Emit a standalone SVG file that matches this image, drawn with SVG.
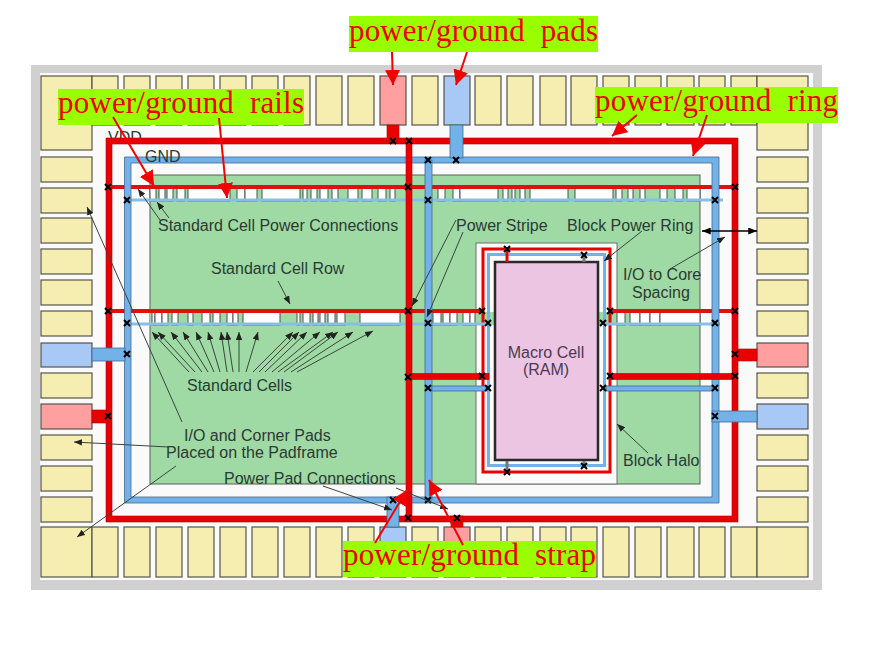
<svg xmlns="http://www.w3.org/2000/svg" width="879" height="645" viewBox="0 0 879 645">
<style>
.pad{fill:#f6edb0;stroke:#55554a;stroke-width:1.2}
.pp{fill:#ff9f9f;stroke:#55554a;stroke-width:1.2}
.pb{fill:#a8c8f5;stroke:#55554a;stroke-width:1.2}
.red{fill:#e80000;stroke:#b00000;stroke-width:.6}
.blu{fill:#72b2e8;stroke:#3f6a96;stroke-width:.8}
.cell{fill:#fff;stroke:#47524c;stroke-width:1}
.t{font-family:"Liberation Sans",Arial,sans-serif;font-size:16px;fill:#2b3a33}
.lab{font-family:"Liberation Serif","Times New Roman",serif;font-size:31px;fill:#f00000;white-space:pre}
.lb{fill:#99ff00}
.thin{stroke:#3a453f;stroke-width:1;fill:none;marker-end:url(#ah)}
.dbl{stroke:#000;stroke-width:1.6;fill:none;marker-end:url(#ahb);marker-start:url(#ahs)}
.rarr{stroke:#f00000;stroke-width:2;fill:none;marker-end:url(#rh)}
.x{stroke:#000;stroke-width:2;fill:none}
</style>
<defs>
<marker id="ah" viewBox="0 0 10 8" refX="10" refY="4" markerWidth="8" markerHeight="6.500" markerUnits="userSpaceOnUse" orient="auto"><path d="M0,0L10,4L0,8Z" fill="#222"/></marker>
<marker id="ahb" viewBox="0 0 10 8" refX="10" refY="4" markerWidth="9" markerHeight="7" markerUnits="userSpaceOnUse" orient="auto"><path d="M0,0L10,4L0,8Z" fill="#000"/></marker>
<marker id="ahs" viewBox="0 0 10 8" refX="0" refY="4" markerWidth="9" markerHeight="7" markerUnits="userSpaceOnUse" orient="auto"><path d="M10,0L0,4L10,8Z" fill="#000"/></marker>
<marker id="rh" viewBox="0 0 14 14" refX="14" refY="7" markerWidth="15" markerHeight="15" markerUnits="userSpaceOnUse" orient="auto"><path d="M0,0L14,7L0,14Z" fill="#f00000"/></marker>
<path id="xm" class="x" d="M-3,-3L3,3M3,-3L-3,3"/>
</defs>
<g id="frame">
<rect x="0" y="0" width="879" height="645" fill="#fff"/>
<rect x="31" y="65" width="791" height="525" fill="#d0d0d0"/>
<rect x="40" y="73" width="773" height="507" fill="#fbfafb"/>
</g>
<g id="pads">
<rect class="pad" x="41" y="76" width="51" height="74"/><rect class="pad" x="92" y="76" width="26" height="49"/>
<rect class="pad" x="124" y="76" width="26" height="49"/><rect class="pad" x="156" y="76" width="26" height="49"/><rect class="pad" x="188" y="76" width="26" height="49"/><rect class="pad" x="220" y="76" width="26" height="49"/><rect class="pad" x="252" y="76" width="26" height="49"/><rect class="pad" x="284" y="76" width="26" height="49"/><rect class="pad" x="316" y="76" width="26" height="49"/><rect class="pad" x="348" y="76" width="26" height="49"/>
<rect class="pp" x="380" y="76" width="26" height="49"/><rect class="pad" x="412" y="76" width="26" height="49"/><rect class="pb" x="444" y="76" width="26" height="49"/>
<rect class="pad" x="475" y="76" width="26" height="49"/><rect class="pad" x="507" y="76" width="26" height="49"/><rect class="pad" x="540" y="76" width="26" height="49"/><rect class="pad" x="571" y="76" width="26" height="49"/><rect class="pad" x="603" y="76" width="26" height="49"/><rect class="pad" x="635" y="76" width="26" height="49"/><rect class="pad" x="667" y="76" width="27" height="49"/><rect class="pad" x="699" y="76" width="26" height="49"/><rect class="pad" x="731" y="76" width="26" height="49"/>
<rect class="pad" x="757" y="76" width="51" height="74"/>
<rect class="pad" x="41" y="157" width="51" height="25"/><rect class="pad" x="41" y="188" width="51" height="25"/><rect class="pad" x="41" y="218" width="51" height="25"/><rect class="pad" x="41" y="249" width="51" height="25"/><rect class="pad" x="41" y="280" width="51" height="25"/><rect class="pad" x="41" y="311" width="51" height="25"/>
<rect class="pb" x="41" y="343" width="51" height="24"/><rect class="pad" x="41" y="373" width="51" height="25"/><rect class="pp" x="41" y="404" width="51" height="25"/><rect class="pad" x="41" y="435" width="51" height="25"/><rect class="pad" x="41" y="466" width="51" height="25"/><rect class="pad" x="41" y="497" width="51" height="25"/>
<rect class="pad" x="757" y="157" width="51" height="25"/><rect class="pad" x="757" y="188" width="51" height="25"/><rect class="pad" x="757" y="218" width="51" height="25"/><rect class="pad" x="757" y="249" width="51" height="25"/><rect class="pad" x="757" y="280" width="51" height="25"/><rect class="pad" x="757" y="311" width="51" height="25"/>
<rect class="pp" x="757" y="343" width="51" height="24"/><rect class="pad" x="757" y="373" width="51" height="25"/><rect class="pb" x="757" y="404" width="51" height="25"/><rect class="pad" x="757" y="435" width="51" height="25"/><rect class="pad" x="757" y="466" width="51" height="25"/><rect class="pad" x="757" y="497" width="51" height="25"/>
<rect class="pad" x="41" y="527" width="51" height="50"/><rect class="pad" x="92" y="527" width="26" height="50"/>
<rect class="pad" x="124" y="527" width="26" height="50"/><rect class="pad" x="156" y="527" width="26" height="50"/><rect class="pad" x="188" y="527" width="26" height="50"/><rect class="pad" x="220" y="527" width="26" height="50"/><rect class="pad" x="252" y="527" width="26" height="50"/><rect class="pad" x="284" y="527" width="26" height="50"/><rect class="pad" x="316" y="527" width="26" height="50"/><rect class="pad" x="348" y="527" width="26" height="50"/>
<rect class="pb" x="380" y="527" width="26" height="50"/><rect class="pad" x="412" y="527" width="26" height="50"/><rect class="pp" x="444" y="527" width="26" height="50"/>
<rect class="pad" x="475" y="527" width="26" height="50"/><rect class="pad" x="507" y="527" width="26" height="50"/><rect class="pad" x="540" y="527" width="26" height="50"/><rect class="pad" x="571" y="527" width="26" height="50"/><rect class="pad" x="603" y="527" width="26" height="50"/><rect class="pad" x="635" y="527" width="26" height="50"/><rect class="pad" x="667" y="527" width="27" height="50"/><rect class="pad" x="699" y="527" width="26" height="50"/><rect class="pad" x="731" y="527" width="26" height="50"/>
<rect class="pad" x="757" y="527" width="51" height="50"/>
</g>
<g id="core">
<rect x="150" y="175" width="550" height="309" fill="#9fd9a4" stroke="#56605a" stroke-width="1"/>
<rect x="476" y="243" width="141" height="241" fill="#fbfbfb" stroke="#6a736c" stroke-width="1"/>
</g>
<g id="row-1">
<rect x="150" y="188" width="550" height="13" fill="#9fd9a4"/>
<rect class="cell" x="150" y="188" width="6" height="13"/><rect class="cell" x="159" y="188" width="6" height="13"/><rect class="cell" x="167" y="188" width="6" height="13"/><rect class="cell" x="177" y="188" width="8" height="13"/><rect class="cell" x="188" y="188" width="42" height="13"/><rect class="cell" x="237" y="188" width="8" height="13"/><rect class="cell" x="245" y="188" width="12" height="13"/><rect class="cell" x="262" y="188" width="38" height="13"/><rect class="cell" x="303" y="188" width="4" height="13"/><rect class="cell" x="311" y="188" width="6" height="13"/><rect class="cell" x="320" y="188" width="8" height="13"/><rect class="cell" x="332" y="188" width="6" height="13"/><rect class="cell" x="348" y="188" width="10" height="13"/><rect class="cell" x="362" y="188" width="10" height="13"/><rect class="cell" x="378" y="188" width="8" height="13"/><rect class="cell" x="390" y="188" width="5" height="13"/>
<rect class="cell" x="438" y="188" width="7" height="13"/><rect class="cell" x="453" y="188" width="7" height="13"/><rect class="cell" x="460" y="188" width="38" height="13"/><rect class="cell" x="503" y="188" width="5" height="13"/><rect class="cell" x="512" y="188" width="3" height="13"/><rect class="cell" x="520" y="188" width="5" height="13"/><rect class="cell" x="530" y="188" width="38" height="13"/><rect class="cell" x="575" y="188" width="38" height="13"/><rect class="cell" x="616" y="188" width="6" height="13"/><rect class="cell" x="628" y="188" width="5" height="13"/><rect class="cell" x="640" y="188" width="5" height="13"/><rect class="cell" x="660" y="188" width="7" height="13"/><rect class="cell" x="675" y="188" width="8" height="13"/><rect class="cell" x="687" y="188" width="13" height="13"/>
</g>
<g id="row-2">
<rect x="150" y="312" width="550" height="13" fill="#9fd9a4"/>
<rect class="cell" x="152" y="312" width="3" height="13"/><rect class="cell" x="155" y="312" width="7" height="13"/><rect class="cell" x="162" y="312" width="6" height="13"/><rect class="cell" x="172" y="312" width="6" height="13"/><rect class="cell" x="188" y="312" width="5" height="13"/><rect class="cell" x="202" y="312" width="8" height="13"/><rect class="cell" x="213" y="312" width="7" height="13"/><rect class="cell" x="227" y="312" width="6" height="13"/><rect class="cell" x="233" y="312" width="5" height="13"/><rect class="cell" x="243" y="312" width="37" height="13"/><rect class="cell" x="297" y="312" width="3" height="13"/><rect class="cell" x="303" y="312" width="7" height="13"/><rect class="cell" x="313" y="312" width="5" height="13"/><rect class="cell" x="320" y="312" width="5" height="13"/><rect class="cell" x="328" y="312" width="7" height="13"/><rect class="cell" x="337" y="312" width="8" height="13"/><rect class="cell" x="360" y="312" width="40" height="13"/>
<rect class="cell" x="433" y="312" width="8" height="13"/><rect class="cell" x="443" y="312" width="7" height="13"/><rect class="cell" x="450" y="312" width="7" height="13"/><rect class="cell" x="463" y="312" width="7" height="13"/><rect class="cell" x="470" y="312" width="5" height="13"/>
<rect class="cell" x="617" y="312" width="8" height="13"/><rect class="cell" x="630" y="312" width="10" height="13"/><rect class="cell" x="640" y="312" width="10" height="13"/><rect class="cell" x="650" y="312" width="10" height="13"/><rect class="cell" x="660" y="312" width="40" height="13"/>
</g>
<g id="macro">
<rect x="483" y="249" width="127" height="223" fill="none" stroke="#e80000" stroke-width="3"/>
<rect x="488.500" y="254.500" width="116" height="211" fill="none" stroke="#72b2e8" stroke-width="3"/>
<rect x="495" y="262" width="103" height="198" fill="#ecc5e3" stroke="#2a2a2a" stroke-width="2.500"/>
<rect x="505.500" y="250" width="3" height="12" fill="#e80000"/>
<rect x="582.500" y="256" width="3" height="6" fill="#777"/>
<rect x="505.500" y="461" width="3" height="11" fill="#777"/>
<rect x="582.500" y="461" width="3" height="6" fill="#777"/>
</g>
<text class="t" x="108" y="143">VDD</text>
<g id="connectors">
<rect x="125" y="198.500" width="598" height="3" fill="#85bfe8"/>
<rect x="127" y="322.500" width="361" height="3" fill="#85bfe8"/>
<rect x="603" y="322.500" width="117" height="3" fill="#85bfe8"/>
<rect x="106" y="185" width="629" height="4" fill="#e01010"/>
<rect x="106" y="309" width="376" height="4" fill="#e01010"/>
<rect x="610" y="309" width="128" height="4" fill="#e01010"/>
<path class="blu" fill-rule="evenodd" d="M124.500,157H719V503H124.500ZM131,163V497H712V163Z"/>
<rect class="blu" x="425" y="160" width="7" height="340"/>
<rect class="blu" x="432" y="386" width="55" height="5"/>
<rect class="blu" x="606" y="386" width="106" height="5"/>
<path class="red" fill-rule="evenodd" d="M106,138H738V522H106ZM112,144V516H732V144Z"/>
<rect class="red" x="406" y="141" width="6" height="378"/>
<rect class="red" x="412" y="373.500" width="77" height="6"/>
<rect class="red" x="609" y="373.500" width="123" height="6"/>
<rect class="red" x="387" y="125" width="12" height="17"/>
<rect class="blu" x="450" y="125" width="13" height="33"/>
<rect class="blu" x="92" y="348" width="33" height="13"/>
<rect class="red" x="92" y="410" width="16" height="13"/>
<rect class="red" x="738" y="349" width="19" height="12"/>
<rect class="blu" x="712" y="411" width="45" height="11"/>
<rect class="blu" x="387" y="497" width="12" height="30"/>
<rect class="red" x="451" y="516" width="12" height="11"/>
</g>
<g id="vias">
<use href="#xm" x="393" y="141"/><use href="#xm" x="409" y="141"/><use href="#xm" x="408" y="187"/><use href="#xm" x="108" y="187"/><use href="#xm" x="127" y="200"/><use href="#xm" x="108" y="311"/><use href="#xm" x="127" y="323"/><use href="#xm" x="408" y="311"/><use href="#xm" x="428" y="323"/><use href="#xm" x="428" y="160"/><use href="#xm" x="456" y="160"/><use href="#xm" x="428" y="200"/><use href="#xm" x="735" y="187"/><use href="#xm" x="715" y="200"/><use href="#xm" x="735" y="311"/><use href="#xm" x="715" y="323"/><use href="#xm" x="482" y="311"/><use href="#xm" x="488" y="323"/><use href="#xm" x="610" y="311"/><use href="#xm" x="603" y="323"/><use href="#xm" x="507" y="249"/><use href="#xm" x="584" y="255"/><use href="#xm" x="127" y="354"/><use href="#xm" x="108" y="416"/><use href="#xm" x="408" y="377"/><use href="#xm" x="428" y="388"/><use href="#xm" x="393" y="500"/><use href="#xm" x="408" y="518"/><use href="#xm" x="428" y="500"/><use href="#xm" x="457" y="518"/><use href="#xm" x="482" y="376"/><use href="#xm" x="488" y="388"/><use href="#xm" x="610" y="376"/><use href="#xm" x="603" y="388"/><use href="#xm" x="735" y="376"/><use href="#xm" x="715" y="388"/><use href="#xm" x="735" y="354"/><use href="#xm" x="715" y="416"/><use href="#xm" x="507" y="472"/><use href="#xm" x="584" y="466"/>
</g>
<g id="labels">
<text class="t" x="145" y="162">GND</text>
<text class="t" x="158" y="231">Standard Cell Power Connections</text>
<text class="t" x="211" y="274">Standard Cell Row</text>
<text class="t" x="456" y="231">Power Stripe</text>
<text class="t" x="567" y="231">Block Power Ring</text>
<text class="t" x="623" y="280">I/O to Core</text>
<text class="t" x="632" y="298">Spacing</text>
<text class="t" x="546" y="358" text-anchor="middle" style="fill:#4a3a55">Macro Cell</text>
<text class="t" x="546" y="375" text-anchor="middle" style="fill:#4a3a55">(RAM)</text>
<text class="t" x="187" y="391">Standard Cells</text>
<text class="t" x="184" y="441">I/O and Corner Pads</text>
<text class="t" x="166" y="458">Placed on the Padframe</text>
<text class="t" x="224" y="484">Power Pad Connections</text>
<text class="t" x="623" y="466">Block Halo</text>
</g>
<g id="leaders">
<line class="thin" x1="160" y1="220" x2="138" y2="189"/>
<line class="thin" x1="169" y1="218" x2="157" y2="202"/>
<line class="thin" x1="278" y1="281" x2="290" y2="304"/>
<line class="thin" x1="456" y1="220" x2="412" y2="306"/>
<line class="thin" x1="463" y1="232" x2="427" y2="317"/>
<line class="thin" x1="642" y1="231" x2="604" y2="261"/>
<line class="dbl" x1="702" y1="231" x2="757" y2="231"/>
<line class="thin" x1="670" y1="269" x2="725" y2="237"/>
<line class="thin" x1="182" y1="422" x2="87" y2="207"/>
<line class="thin" x1="168" y1="447" x2="74" y2="442"/>
<line class="thin" x1="176" y1="466" x2="77" y2="537"/>
<line class="thin" x1="323" y1="486" x2="392" y2="510"/>
<line class="thin" x1="396" y1="488" x2="448" y2="509"/>
<line class="thin" x1="648" y1="453" x2="617" y2="424"/>
<line class="thin" x1="189" y1="372" x2="152" y2="332"/><line class="thin" x1="195" y1="372" x2="158" y2="332"/><line class="thin" x1="202" y1="372" x2="171" y2="332"/><line class="thin" x1="208" y1="372" x2="183" y2="332"/><line class="thin" x1="214" y1="372" x2="196" y2="332"/><line class="thin" x1="220" y1="372" x2="208" y2="332"/><line class="thin" x1="227" y1="372" x2="221" y2="332"/><line class="thin" x1="233" y1="372" x2="227" y2="332"/><line class="thin" x1="239" y1="372" x2="239" y2="332"/><line class="thin" x1="246" y1="372" x2="258" y2="332"/><line class="thin" x1="253" y1="372" x2="293" y2="332"/><line class="thin" x1="259" y1="372" x2="299" y2="332"/><line class="thin" x1="265" y1="372" x2="307" y2="332"/><line class="thin" x1="272" y1="372" x2="320" y2="332"/><line class="thin" x1="278" y1="372" x2="333" y2="332"/><line class="thin" x1="284" y1="372" x2="338" y2="332"/><line class="thin" x1="291" y1="372" x2="353" y2="332"/><line class="thin" x1="297" y1="372" x2="373" y2="331"/>
</g>
<g id="callouts">
<g id="callout-pads"><rect class="lb" x="349" y="16" width="249" height="36"/><text class="lab" x="349" y="41" textLength="249" lengthAdjust="spacing">power/ground  pads</text>
<line class="rarr" x1="392" y1="52" x2="393" y2="85"/><line class="rarr" x1="467" y1="52" x2="456" y2="85"/></g>
<g id="callout-rails"><rect class="lb" x="58" y="89" width="246" height="36"/><text class="lab" x="58" y="113" textLength="246" lengthAdjust="spacing">power/ground  rails</text>
<line class="rarr" x1="113" y1="117" x2="154" y2="186"/><line class="rarr" x1="219" y1="118" x2="227" y2="198"/></g>
<g id="callout-ring"><rect class="lb" x="595" y="87" width="243" height="36"/><text class="lab" x="595" y="111" textLength="243" lengthAdjust="spacing">power/ground  ring</text>
<line class="rarr" x1="637" y1="115" x2="612" y2="136"/><line class="rarr" x1="707" y1="115" x2="693" y2="156"/></g>
<g id="callout-strap"><rect class="lb" x="343" y="541" width="253" height="36"/><text class="lab" x="343" y="565" textLength="253" lengthAdjust="spacing">power/ground  strap</text>
<line class="rarr" x1="375" y1="543" x2="407" y2="490"/><line class="rarr" x1="463" y1="545" x2="429" y2="480"/></g>
</g>
</svg>
